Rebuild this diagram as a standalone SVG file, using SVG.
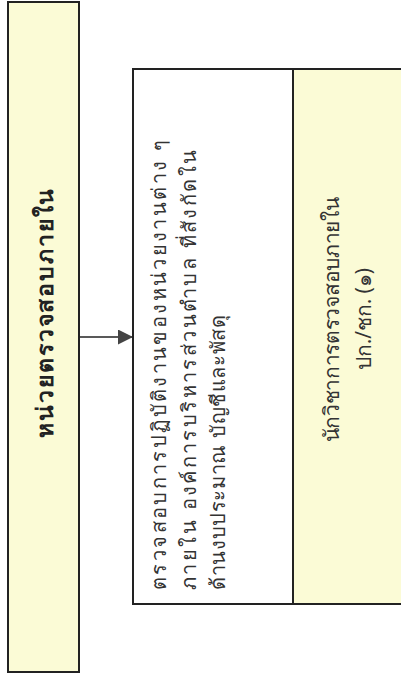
<svg xmlns="http://www.w3.org/2000/svg" width="401" height="680" viewBox="0 0 401 680">
<style>
.box{stroke:#222;stroke-width:2}
.y{fill:#fbfbd6}
.w{fill:#fff}
text{font-family:"Noto Sans","DejaVu Sans",sans-serif;fill:#333}
.t{font-size:20px}
.r{font-size:21px}
.h{font-size:23px;font-weight:bold;fill:#222}
</style>
<defs>
<marker id="ah" viewBox="0 0 10 10" refX="10" refY="5" markerWidth="15" markerHeight="15" markerUnits="userSpaceOnUse" orient="auto">
<path d="M0,0 L10,5 L0,10 z" fill="#444"/>
</marker>
</defs>
<rect width="401" height="680" fill="#fff"/>
<g id="unit">
<rect class="box y" x="8" y="2" width="71" height="670"/>
<text class="h" transform="translate(53,313) rotate(-90)" text-anchor="middle" textLength="249" lengthAdjust="spacing">หน่วยตรวจสอบภายใน</text>
</g>
<g id="connectors">
<line x1="79" y1="337" x2="133" y2="337" stroke="#222" stroke-width="1.5" marker-end="url(#ah)"/>
</g>
<g id="task">
<rect class="box w" x="133" y="69" width="160" height="535"/>
<text class="t" transform="translate(166,590) rotate(-90)" textLength="450" lengthAdjust="spacing">ตรวจสอบการปฏิบัติงานของหน่วยงานต่าง ๆ</text>
<text class="t" transform="translate(196,590) rotate(-90)" textLength="440" lengthAdjust="spacing">ภายใน องค์การบริหารส่วนตำบล ที่สังกัดใน</text>
<text class="t" transform="translate(225,590) rotate(-90)" textLength="275" lengthAdjust="spacing">ด้านงบประมาณ บัญชีและพัสดุ</text>
</g>
<g id="staff">
<rect class="box y" x="293" y="69" width="110" height="535"/>
<text class="r" transform="translate(339,320) rotate(-90)" text-anchor="middle" textLength="245" lengthAdjust="spacing">นักวิชาการตรวจสอบภายใน</text>
<text class="r" transform="translate(371,319) rotate(-90)" text-anchor="middle" textLength="102" lengthAdjust="spacing">ปก./ชก. (๑)</text>
</g>
</svg>
